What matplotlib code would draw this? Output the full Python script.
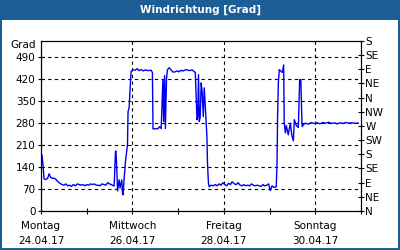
import numpy as np
import matplotlib.pyplot as plt
from matplotlib.patches import Rectangle
from matplotlib.ticker import MultipleLocator

# hours since Montag 24.04.17 00:00 and wind direction in degrees (unwrapped)
hours = [0, 0.5, 1.0, 1.6, 2.6, 3.5, 4.2, 5.0, 5.8, 7.0,
         7.9, 9.0, 10, 11, 12, 13, 14, 15, 16, 17,
         18, 19, 20, 21, 22, 23, 24, 25, 26, 27,
         28, 29, 30, 31, 32, 33, 34, 35, 36, 37,
         38, 38.4, 39.1, 39.3, 39.6, 40.2, 41.0, 41.5, 42.1, 42.4,
         42.8, 43.1, 43.6, 44.4, 45.4, 45.7, 46.3, 46.8, 47.3, 48.4,
         49.4, 50.5, 51.5, 52.6, 53.6, 54.7, 56.3, 57.8, 58.5, 58.8,
         59.9, 61.5, 62.3, 63.1, 64.0, 64.4, 64.9, 65.3, 65.9, 66.4,
         67.3, 68.3, 69.4, 70.4, 71.5, 72.5, 73.6, 74.6, 76.2, 77.8,
         79.4, 81.0, 81.9, 82.3, 82.7, 83.1, 83.6, 84.1, 84.6, 85.2,
         85.7, 86.2, 87.1, 87.4, 87.9, 88.3, 89.4, 90.4, 91.5, 92.5,
         93.5, 94.5, 95.5, 96.5, 97.5, 98.5, 99.5, 100.3, 101.5, 102.5,
         103.5, 104.5, 105.5, 106.5, 107.5, 108.5, 109.5, 110.5, 111.5, 112.5,
         113.5, 114.5, 115.5, 116.5, 117.5, 118.5, 119.5, 120.4, 121.3, 122.3,
         123.5, 123.9, 124.2, 124.6, 125.1, 126.2, 126.7, 127.4, 127.7, 128.3,
         128.8, 129.8, 130.9, 131.7, 132.5, 133.0, 134.1, 135.1, 135.8, 136.4,
         137.0, 137.2, 137.7, 138.8, 140.4, 142.0, 143.5, 145.0, 146.5, 148.0,
         149.5, 151.0, 152.5, 154.0, 155.5, 157.0, 158.5, 160.0, 161.5, 163.0,
         164.5, 166.6]
grad = [130, 178, 150, 102, 100, 104, 118, 108, 104, 104,
        100, 92, 88, 84, 82, 86, 80, 82, 78, 84,
        80, 86, 84, 82, 84, 80, 84, 82, 86, 84,
        86, 82, 82, 80, 86, 84, 82, 90, 86, 84,
        80, 80, 189, 191, 160, 64, 99, 73, 90, 99,
        55, 51, 100, 160, 210, 315, 330, 391, 443, 449,
        447, 452, 446, 449, 445, 448, 446, 447, 440, 261,
        261, 262, 268, 262, 417, 284, 430, 262, 420, 449,
        455, 448, 441, 442, 445, 442, 447, 445, 449, 446,
        448, 440, 290, 300, 433, 284, 300, 407, 380, 300,
        391, 340, 236, 153, 89, 77, 82, 80, 84, 80,
        86, 82, 90, 84, 80, 88, 84, 93, 86, 84,
        90, 82, 80, 84, 80, 82, 80, 86, 82, 80,
        82, 80, 78, 84, 80, 82, 86, 65, 80, 75,
        77, 146, 296, 406, 449, 443, 440, 464, 280, 248,
        271, 242, 279, 240, 223, 290, 271, 265, 417, 417,
        280, 268, 274, 279, 276, 281, 278, 280, 277, 281,
        279, 282, 278, 280, 277, 280, 278, 281, 279, 280,
        279, 279]

days = ['Montag', 'Mittwoch', 'Freitag', 'Sonntag']
dates = ['24.04.17', '26.04.17', '28.04.17', '30.04.17']
compass = ['N', 'NE', 'E', 'SE', 'S', 'SW', 'W', 'NW', 'N', 'NE', 'E', 'SE', 'S']

frame = '#1c5e95'
fs = 7.5

fig = plt.figure(figsize=(4, 2.5), dpi=100)
fig.patch.set_facecolor(frame)
fig.patches.append(Rectangle((2 / 400, 2 / 250), 396 / 400, 228 / 250,
                             transform=fig.transFigure, facecolor='white',
                             edgecolor='none', zorder=-10))
fig.text(0.5, 0.96, 'Windrichtung [Grad]', color='white', fontsize=fs,
         fontweight='bold', ha='center', va='center')

ax = fig.add_axes([41 / 400, 39 / 250, 320 / 400, 170 / 250])
ax.set_facecolor('white')
ax.plot(np.array(hours) / 24, grad, color='#0000ee', lw=1)

ax.set_xlim(0, 7)
ax.set_ylim(0, 540)
ax.set_yticks(range(0, 491, 70))
ax.set_xticks(range(0, 7, 2))
ax.set_xticklabels([d + '\n' + t for d, t in zip(days, dates)], linespacing=1.7)
ax.xaxis.set_minor_locator(MultipleLocator(1))
ax.grid(True, which='major', color='black', linestyle=(0, (3, 3)), lw=0.8)
ax.tick_params(axis='both', labelsize=fs, direction='inout', length=4,
               width=0.8, pad=2, colors='black')
ax.tick_params(axis='x', which='minor', direction='inout', length=4, width=0.8)
ax.tick_params(axis='x', pad=5)
for s in ax.spines.values():
    s.set_linewidth(0.8)

ax2 = ax.twinx()
ax2.set_ylim(0, 540)
ax2.set_yticks(range(0, 541, 45))
ax2.set_yticklabels(compass)
ax2.tick_params(axis='y', labelsize=fs, direction='inout', length=4, width=0.8, pad=1)

fig.text(36 / 400, 1 - 45 / 250, 'Grad', fontsize=fs, ha='right', va='center')

fig.savefig('out.png', dpi=100, facecolor=fig.get_facecolor())
